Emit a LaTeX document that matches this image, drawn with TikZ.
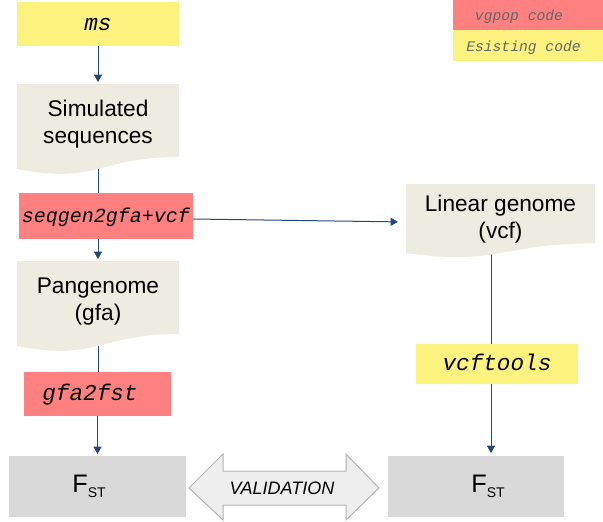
\documentclass[tikz,border=0pt]{standalone}
\usepackage{fontspec}
\setmainfont{Liberation Sans}
\setmonofont{Liberation Mono}
\usetikzlibrary{arrows.meta}
\definecolor{codeyel}{RGB}{255,243,128}
\definecolor{codered}{RGB}{255,128,128}
\definecolor{docbg}{RGB}{238,236,225}
\definecolor{fstgray}{RGB}{217,217,217}
\definecolor{conncol}{RGB}{36,72,124}
\definecolor{valfill}{RGB}{238,238,238}
\definecolor{valdraw}{RGB}{179,179,179}
\definecolor{legtext}{RGB}{102,102,102}
\pgfdeclarelayer{bg}
\pgfsetlayers{bg,main}
\newcommand\docpath[4]{%
  \fill[docbg] (#1,#2) -- (#3,#2) -- (#3,{#2+0.802*#4})
    .. controls ({(#1+#3)/2},{#2+0.802*#4}) and ({(#1+#3)/2},{#2+1.1075*#4}) ..
    (#1,{#2+0.934*#4}) -- cycle;}
\begin{document}
\begin{tikzpicture}[x=0.75pt,y=-0.75pt,
  box/.style={rectangle, inner sep=0pt, outer sep=0pt},
  codebox/.style={box, font=\fontsize{17}{20}\selectfont\ttfamily\itshape, text height=0.95em, text depth=0.05em},
  docnode/.style={box, align=center, font=\fontsize{17}{20.25}\selectfont},
  fstbox/.style={box, fill=fstgray, font=\fontsize{19}{22}\selectfont},
  legend/.style={box, font=\fontsize{11}{13}\selectfont\ttfamily\itshape, text=legtext, text height=0.95em, text depth=0.05em},
  conn/.style={draw=conncol, line width=0.75pt},
  arr/.style={conn, -{Triangle[width=6pt,length=5.5pt]}}]
\useasboundingbox (0,0) rectangle (603,521);

% legend
\node[legend, fill=codered, minimum width=150*0.75pt, minimum height=30*0.75pt] (legred) at (528,15) {\kern-13.5pt vgpop code};
\node[legend, fill=codeyel, minimum width=150*0.75pt, minimum height=31*0.75pt] (legyel) at (528,45.5) {\kern-6.75pt Esisting code};

% left column
\node[codebox, fill=codeyel, minimum width=162*0.75pt, minimum height=44*0.75pt] (ms) at (98,24) {ms};
\docpath{17}{84}{179}{91}
\node[docnode, minimum width=162*0.75pt, minimum height=81*0.75pt] (sim) at (98,124.5) {Simulated\\sequences};
\node[codebox, font=\fontsize{15}{18}\selectfont\ttfamily\itshape, fill=codered, minimum width=174*0.75pt, minimum height=46*0.75pt] (seqgen) at (106,216) {seqgen2gfa+vcf};
\docpath{17}{261}{179}{91}
\node[docnode, minimum width=162*0.75pt, minimum height=82*0.75pt] (pan) at (98,302) {Pangenome\\(gfa)};
\node[codebox, fill=codered, minimum width=147*0.75pt, minimum height=44*0.75pt] (gfa) at (97.5,394) {\kern-11.25pt gfa2fst};
\node[fstbox, minimum width=177*0.75pt, minimum height=61*0.75pt] (fstL) at (97.5,486.5) {\kern-12.75pt F\raisebox{-3.75pt}{\fontsize{10.5}{12}\selectfont ST}};

% right column
\docpath{406}{184}{595}{74}
\node[docnode, minimum width=189*0.75pt, minimum height=70*0.75pt] (lin) at (500.5,219) {Linear genome\\(vcf)};
\node[codebox, fill=codeyel, minimum width=162*0.75pt, minimum height=40*0.75pt] (vcf) at (497,364) {vcftools};
\node[fstbox, minimum width=176*0.75pt, minimum height=61*0.75pt] (fstR) at (476,486.5) {F\raisebox{-3.75pt}{\fontsize{10.5}{12}\selectfont ST}\kern-18pt};

% validation double arrow
\filldraw[fill=valfill, draw=valdraw, line width=0.75pt]
  (189,488) -- (223,454) -- (223,471) -- (346,471) -- (346,454) -- (379,488)
  -- (346,520) -- (346,505) -- (223,505) -- (223,520) -- cycle;
\node[box, font=\fontsize{13.5}{16}\selectfont\itshape] (valid) at (282,488) {VALIDATION};

% connectors
\begin{pgfonlayer}{bg}
\draw[arr, shorten >=1.5pt] (ms.south) -- (sim.north);
\draw[conn] (sim.south) -- (sim.south |- seqgen.north);
\draw[arr, shorten >=1.5pt] (seqgen.south -| pan.north) -- (pan.north);
\draw[conn] (pan.south) -- (pan.south |- gfa.north);
\draw[arr, shorten >=1.5pt] (gfa.south) -- (fstL.north);
\draw[arr, shorten >=6pt] ([yshift=-2.25pt]seqgen.east) -- ([yshift=-2.25pt]lin.west);
\draw[conn] ([xshift=-7.1pt]lin.south) -- ([xshift=-7.1pt]lin.south |- vcf.north);
\draw[arr, shorten >=2.25pt] ([xshift=-4.5pt]vcf.south) -- ([xshift=-4.5pt]vcf.south |- fstR.north);
\end{pgfonlayer}
\end{tikzpicture}
\end{document}
